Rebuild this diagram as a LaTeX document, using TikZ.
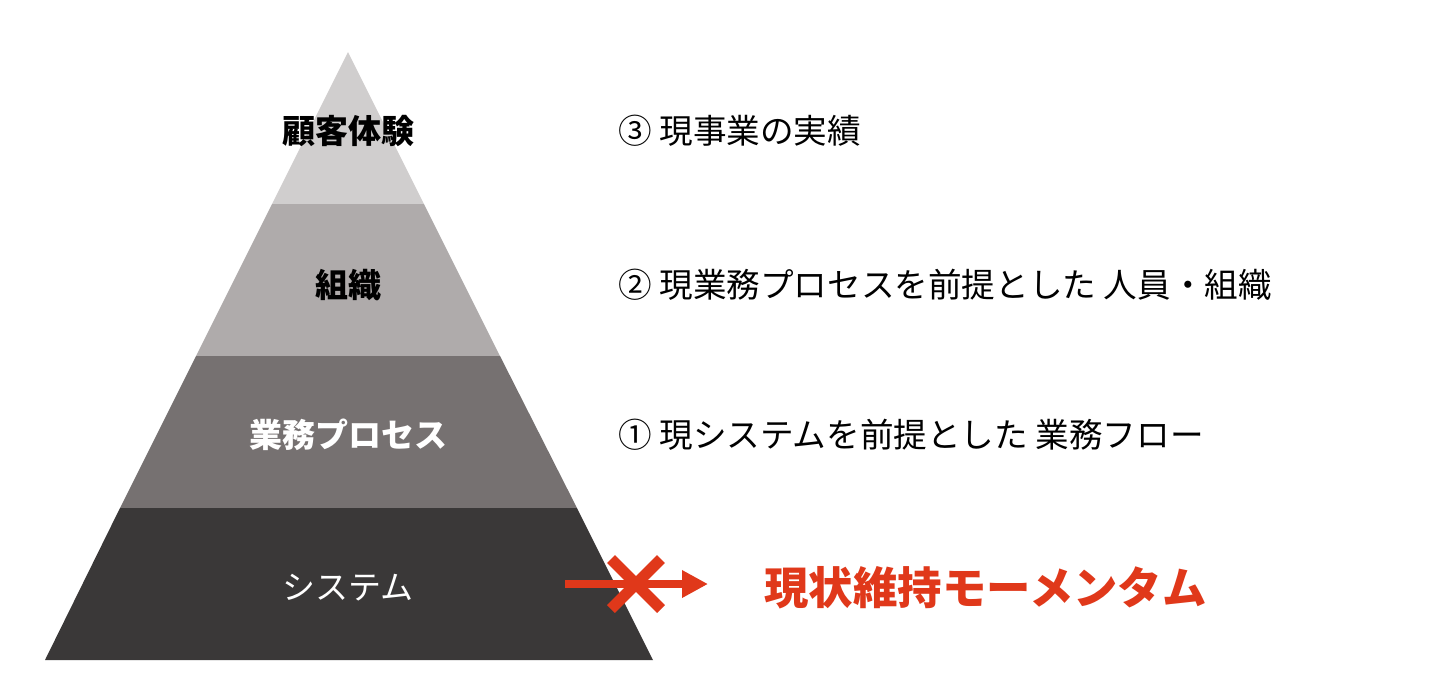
\documentclass[tikz,border=0pt]{standalone}
\usepackage{fontspec}
\setmainfont{Noto Sans CJK JP}
\usetikzlibrary{arrows.meta}
\definecolor{lay1}{HTML}{D0CECE}
\definecolor{lay2}{HTML}{AFABAB}
\definecolor{lay3}{HTML}{767171}
\definecolor{lay4}{HTML}{3A3838}
\definecolor{accent}{HTML}{E0381A}
\tikzset{
  layerlabel/.style={font=\fontsize{16.5pt}{18pt}\selectfont\bfseries, inner sep=0pt, anchor=center},
  desc/.style={font=\fontsize{16.8pt}{18pt}\selectfont, inner sep=0pt, anchor=west},
  redline/.style={draw=accent, line width=4pt},
}
\begin{document}
\begin{tikzpicture}[x=0.5pt,y=-0.5pt]
\useasboundingbox[fill=white] (0,0) rectangle (1440,677);
% layers
\fill[lay1] (348,52) -- (424,204) -- (272,204) -- cycle;
\fill[lay2] (272,204) -- (424,204) -- (500,356) -- (196,356) -- cycle;
\fill[lay3] (196,356) -- (500,356) -- (577,508) -- (120,508) -- cycle;
\fill[lay4] (120,508) -- (577,508) -- (653,660) -- (45,660) -- cycle;
% labels
\node[layerlabel, text=black] (l1) at (348,131) {顧客体験};
\node[layerlabel, text=black] (l2) at (348,285) {組織};
\node[layerlabel, text=white] (l3) at (348,435) {業務プロセス};
\node[layerlabel, text=white, font=\fontsize{16.5pt}{18pt}\selectfont] (l4) at (348,588) {システム};
% descriptions
\node[desc] (d3) at (618,131) {③ 現事業の実績};
\node[desc] (d2) at (618,285) {② 現業務プロセスを前提とした 人員・組織};
\node[desc] (d1) at (618,435) {① 現システムを前提とした 業務フロー};
% arrow with cross
\coordinate (as) at (565,584);
\coordinate (ae) at (708,584);
\draw[redline, -{Triangle[length=13pt,width=13pt]}] (as) -- (ae);
\coordinate (x1) at (611,559);
\coordinate (x2) at (661,609);
\coordinate (x3) at (661,559);
\coordinate (x4) at (611,609);
\draw[draw=accent, line width=5.5pt] (x1) -- (x2);
\draw[draw=accent, line width=5.5pt] (x3) -- (x4);
\node[font=\fontsize{22.2pt}{24pt}\selectfont\bfseries, text=accent, inner sep=0pt, anchor=west] (mom) at (764,588) {現状維持モーメンタム};
\end{tikzpicture}
\end{document}
